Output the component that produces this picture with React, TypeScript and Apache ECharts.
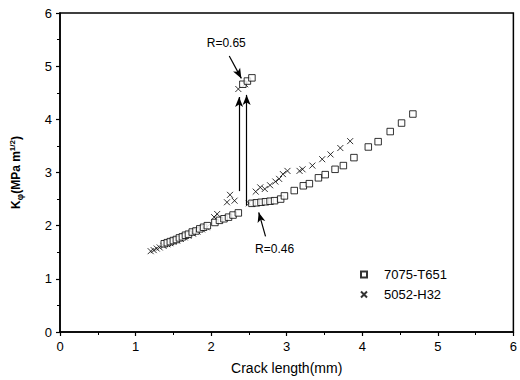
import React, { useEffect, useRef } from "react";
import * as echarts from "echarts";

const xTicks = [0, 1, 2, 3, 4, 5, 6];
const yTicks = [0, 1, 2, 3, 4, 5, 6];

const seriesNames = ["7075-T651", "5052-H32"];

// 7075-T651 (open squares): [crack length mm, K]
const data7075: number[][] = [
  [1.38, 1.66], [1.42, 1.68], [1.46, 1.70], [1.50, 1.72], [1.54, 1.74], [1.58, 1.77],
  [1.62, 1.79], [1.66, 1.82], [1.70, 1.84], [1.75, 1.88], [1.80, 1.90], [1.85, 1.94],
  [1.90, 1.97], [1.95, 2.00], [2.05, 2.06], [2.11, 2.10], [2.17, 2.13], [2.23, 2.16],
  [2.29, 2.20], [2.36, 2.24],
  [2.42, 4.66], [2.48, 4.72], [2.54, 4.78],
  [2.54, 2.42], [2.60, 2.43], [2.66, 2.44], [2.72, 2.45], [2.78, 2.46], [2.84, 2.47],
  [2.92, 2.50], [2.97, 2.56], [3.10, 2.66], [3.22, 2.75], [3.30, 2.79], [3.42, 2.90],
  [3.51, 2.96], [3.64, 3.06], [3.75, 3.13], [3.89, 3.28], [4.08, 3.48], [4.21, 3.58],
  [4.37, 3.77], [4.52, 3.93], [4.67, 4.10],
];

// 5052-H32 (crosses)
const data5052: number[][] = [
  [1.20, 1.52], [1.24, 1.54], [1.28, 1.57], [1.32, 1.59], [1.37, 1.62], [1.42, 1.65],
  [1.46, 1.67], [1.50, 1.70], [1.55, 1.72], [1.60, 1.75], [1.65, 1.78], [1.70, 1.81],
  [1.76, 1.85], [1.82, 1.89], [1.88, 1.93], [1.94, 1.97], [2.04, 2.16], [2.08, 2.22],
  [2.21, 2.44], [2.25, 2.58], [2.31, 2.47],
  [2.36, 4.57], [2.45, 4.66],
  [2.50, 2.42], [2.59, 2.64], [2.65, 2.72], [2.71, 2.69], [2.78, 2.76], [2.85, 2.83],
  [2.90, 2.88], [2.95, 2.97], [3.01, 3.03], [3.17, 3.03], [3.21, 3.06], [3.34, 3.13],
  [3.47, 3.25], [3.58, 3.34], [3.71, 3.46], [3.84, 3.59],
];

// annotations (data coordinates)
const jumpArrows: number[][][] = [
  [[2.37, 2.65], [2.37, 4.42]],
  [[2.47, 2.38], [2.47, 4.46]],
];
const pointerArrows: number[][][] = [
  [[2.24, 5.19], [2.40, 4.77]],
  [[2.72, 1.80], [2.63, 2.25]],
];
const annoLabels: { name: string; at: number[] }[] = [
  { name: "R=0.65", at: [2.20, 5.43] },
  { name: "R=0.46", at: [2.84, 1.57] },
];

const FONT = "Liberation Sans, Arial, sans-serif";
const CROSS = "path://M0,0L10,10M10,0L0,10";

export default function App() {
  const ref = useRef<HTMLDivElement>(null);
  useEffect(() => {
    if (!ref.current) return;
    const chart = echarts.init(ref.current, null, { renderer: "svg" });
    const axisCommon = {
      type: "value" as const,
      min: 0,
      max: 6,
      interval: 1,
      axisLine: { show: true, lineStyle: { color: "#000", width: 1.5 } },
      axisTick: { show: true, inside: false, length: 4, lineStyle: { color: "#000", width: 1.2 } },
      minorTick: { show: true, splitNumber: 2, length: 3, lineStyle: { color: "#000", width: 1 } },
      splitLine: { show: false },
      axisLabel: { color: "#000", fontSize: 13, fontFamily: FONT },
    };
    chart.setOption({
      animation: false,
      grid: {
        left: 60, right: 2, top: 13, bottom: 43,
        show: true, borderColor: "#000", borderWidth: 1.5, backgroundColor: "#fff",
      },
      xAxis: {
        ...axisCommon,
        axisLabel: { ...axisCommon.axisLabel, margin: 8, formatter: (v: number) => (xTicks.includes(v) ? String(v) : "") },
        name: "Crack length(mm)",
        nameLocation: "middle",
        nameGap: 29,
        nameTextStyle: { color: "#000", fontSize: 14, fontFamily: FONT },
      },
      yAxis: {
        ...axisCommon,
        axisLabel: { ...axisCommon.axisLabel, margin: 8, formatter: (v: number) => (yTicks.includes(v) ? String(v) : "") },
        name: "{k|K}{s|φ}{k|(MPa m}{p|1/2}{k|)}",
        nameLocation: "middle",
        nameGap: 36,
        nameTextStyle: {
          color: "#000",
          fontFamily: FONT,
          rich: {
            k: { fontSize: 12, fontWeight: "bold", color: "#000", fontFamily: FONT },
            s: { fontSize: 9, fontWeight: "bold", color: "#000", fontFamily: FONT, padding: [7, 0, 0, 0] },
            p: { fontSize: 8, fontWeight: "bold", color: "#000", fontFamily: FONT, padding: [0, 0, 8, 0] },
          },
        },
      },
      legend: {
        data: seriesNames,
        orient: "vertical",
        left: 355,
        top: 263,
        itemWidth: 6,
        itemHeight: 6,
        itemGap: 7,
        textStyle: { color: "#000", fontSize: 13, fontFamily: FONT, padding: [0, 0, 0, 12] },
      },
      series: [
        {
          name: seriesNames[0],
          type: "scatter",
          data: data7075,
          symbol: "rect",
          symbolSize: 6.5,
          itemStyle: { color: "#fff", borderColor: "#000", borderWidth: 1 },
          z: 3,
          markLine: {
            silent: true,
            symbol: ["none", "arrow"],
            symbolSize: [6, 10],
            label: { show: false },
            lineStyle: { color: "#000", width: 1.2, type: "solid" },
            data: [...jumpArrows, ...pointerArrows].map((seg) => [
              { coord: seg[0] },
              { coord: seg[1] },
            ]),
          },
          markPoint: {
            silent: true,
            symbol: "circle",
            symbolSize: 0,
            label: {
              show: true,
              position: "inside",
              formatter: "{b}",
              color: "#000",
              fontSize: 12,
              fontFamily: FONT,
            },
            data: annoLabels.map((a) => ({ name: a.name, coord: a.at })),
          },
        },
        {
          name: seriesNames[1],
          type: "scatter",
          data: data5052,
          symbol: CROSS,
          symbolSize: 6,
          itemStyle: { color: "rgba(0,0,0,0)", borderColor: "#000", borderWidth: 1 },
          z: 2,
        },
      ],
    });
    return () => chart.dispose();
  }, []);
  return (
    <div
      ref={ref}
      style={{ position: "absolute", left: 0, top: 0, width: 520, height: 380, background: "#fff" }}
    />
  );
}
